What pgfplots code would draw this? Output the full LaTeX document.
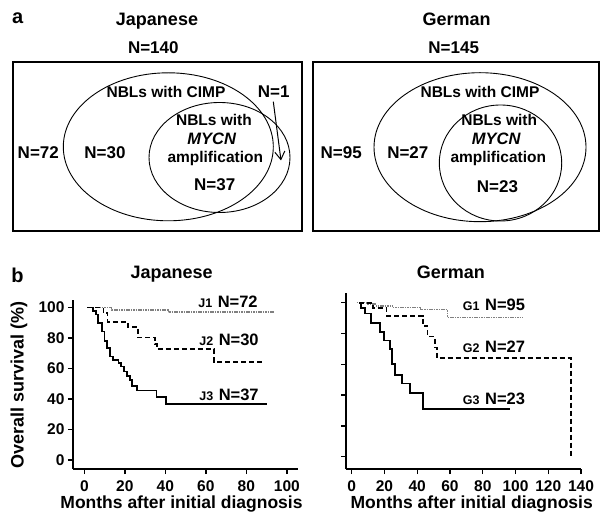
\documentclass[border=0pt]{standalone}
\usepackage{pgfplots}
\pgfplotsset{compat=1.18}
\usepackage{fontspec}
\setmainfont{Liberation Sans}
\usetikzlibrary{arrows.meta}
\newcommand\fs[1]{\fontsize{#1}{#1}\selectfont}
\pgfplotsset{
  venn/.style={scale only axis, anchor=south west, xtick=\empty, ytick=\empty,
    axis line style={line width=1.8pt}, clip=false},
  km/.style={scale only axis, anchor=south west, axis x line*=bottom, axis y line*=left,
    axis line style={line width=2pt}, tick align=outside, major tick length=5pt,
    tick style={line width=1.4pt, black}, xtick={0,20,...,140}, ytick={0,20,...,100},
    ticklabel style={font=\bfseries\fs{15.5}},
    xticklabel style={yshift=-3pt},
    /pgf/number format/assume math mode=true, clip=false},
  g1/.style={color=black!50, line width=1.5pt, dash pattern=on 1.6pt off 0.8pt, const plot},
  g2/.style={black, line width=1.7pt, dash pattern=on 5pt off 3pt, const plot},
  g3/.style={black, line width=1.7pt, const plot}
}
\begin{document}
\begin{tikzpicture}[font=\bfseries]
\useasboundingbox (0,0) rectangle (609pt,522pt);
% ---------- panel a labels
\node[anchor=base, font=\bfseries\fs{20}] at (17.7pt,498.7pt) {a};
\node[anchor=base, font=\bfseries\fs{18}] at (157pt,496pt) {Japanese};
\node[anchor=base, font=\bfseries\fs{18}] at (456.7pt,496pt) {German};
\node[anchor=base, font=\bfseries\fs{17}] at (153.3pt,468pt) {N=140};
\node[anchor=base, font=\bfseries\fs{17}] at (453.7pt,468pt) {N=145};
% ---------- Venn Japanese
\begin{axis}[venn, at={(13pt,291pt)}, width=289pt, height=169pt,
  xmin=13, xmax=302, ymin=291, ymax=460]
\draw[line width=0.9pt] (axis cs:168.3,375.2) ellipse [x radius=105, y radius=74];
\draw[line width=0.9pt] (axis cs:219.5,364.5) ellipse [x radius=70.5, y radius=55];
\draw[line width=1pt, -{Straight Barb[length=8pt,width=10pt]}] (axis cs:273.3,420.3) -- (axis cs:281,361.5);
\node[anchor=base, font=\bfseries\fs{15.5}] at (axis cs:166,424.7) {NBLs with CIMP};
\node[anchor=base, font=\bfseries\fs{17}] at (axis cs:273.8,424.7) {N=1};
\node[anchor=base, font=\bfseries\fs{15.5}] at (axis cs:214,396) {NBLs with};
\node[anchor=base, font=\bfseries\itshape\fs{16.5}] at (axis cs:211.7,377) {MYCN};
\node[anchor=base, font=\bfseries\fs{15.5}] at (axis cs:215.3,359.3) {amplification};
\node[anchor=base, font=\bfseries\fs{17}] at (axis cs:214.7,331.3) {N=37};
\node[anchor=base, font=\bfseries\fs{17}] at (axis cs:38.3,363.7) {N=72};
\node[anchor=base, font=\bfseries\fs{17}] at (axis cs:105,363.7) {N=30};
\end{axis}
% ---------- Venn German
\begin{axis}[venn, at={(313pt,291pt)}, width=286pt, height=169pt,
  xmin=313, xmax=599, ymin=291, ymax=460]
\draw[line width=0.9pt] (axis cs:480,374.8) ellipse [x radius=106, y radius=74.5];
\draw[line width=0.9pt] (axis cs:500.5,359) ellipse [x radius=61.2, y radius=58];
\node[anchor=base, font=\bfseries\fs{15.5}] at (axis cs:480,424.7) {NBLs with CIMP};
\node[anchor=base, font=\bfseries\fs{15.5}] at (axis cs:499.2,396) {NBLs with};
\node[anchor=base, font=\bfseries\itshape\fs{16.5}] at (axis cs:496.2,377) {MYCN};
\node[anchor=base, font=\bfseries\fs{15.5}] at (axis cs:498.3,359.3) {amplification};
\node[anchor=base, font=\bfseries\fs{17}] at (axis cs:497.5,329.3) {N=23};
\node[anchor=base, font=\bfseries\fs{17}] at (axis cs:341.2,363.7) {N=95};
\node[anchor=base, font=\bfseries\fs{17}] at (axis cs:407.8,363.7) {N=27};
\end{axis}
% ---------- panel b labels
\node[anchor=base, font=\bfseries\fs{20}] at (17.5pt,239.3pt) {b};
\node[anchor=base, font=\bfseries\fs{18}] at (171.7pt,243.7pt) {Japanese};
\node[anchor=base, font=\bfseries\fs{18}] at (450.8pt,243.7pt) {German};
\node[rotate=90, font=\bfseries\fs{18}] at (19pt,137pt) {Overall survival (\%)};
\node[anchor=base, font=\bfseries\fs{17.5}] at (181.5pt,13.7pt) {Months after initial diagnosis};
\node[anchor=base, font=\bfseries\fs{17.5}] at (471.7pt,13.7pt) {Months after initial diagnosis};
% ---------- KM Japanese
\begin{axis}[km, at={(73pt,53pt)}, width=225pt, height=169pt,
  xmin=-5.6, xmax=105.5, ymin=-5.9, ymax=105]
\addplot[g1] coordinates {(1.5,100)(13.5,98.6)(41.5,97)(94,97)};
\addplot[g2] coordinates {(1.5,100)(9.4,96.5)(11.5,90.5)(21.5,87.5)(26.5,80.3)(34.8,76)(35.8,72.7)(64,64.5)(89.2,64.5)};
\addplot[g3] coordinates {(3.6,100)(4.4,97.6)(5.8,95.4)(6.9,89.9)(8.6,84.4)(9.9,77.9)(11.1,73.5)(12.7,68)(14.3,65.8)(16.8,63.5)(18.1,61.4)(19.6,58.1)(20.9,55.3)(22.6,52.6)(23.4,48.7)(25.9,45.6)(35.7,41.5)(40.2,36.6)(90.1,36.6)};
\end{axis}
\node[anchor=base, font=\bfseries\fs{16.5}] at (228pt,214.7pt) {{\fs{12.5}J1}\,\,N=72};
\node[anchor=base, font=\bfseries\fs{16.5}] at (229pt,177pt) {{\fs{12.5}J2}\,\,N=30};
\node[anchor=base, font=\bfseries\fs{16.5}] at (229pt,121.3pt) {{\fs{12.5}J3}\,\,N=37};
% ---------- KM German
\begin{axis}[km, at={(346pt,53pt)}, width=235pt, height=176pt,
  xmin=-3.5, xmax=140, ymin=-8, ymax=106.3, yticklabels={}]
\addplot[g1] coordinates {(3,100)(9,99)(15,98)(25,97)(42,95.5)(58.5,90.5)(104.5,90.5)};
\addplot[g2] coordinates {(4.5,100)(13,96.5)(21.2,91.5)(43.5,85)(46.3,78)(50.8,71)(52,64)(134,64)(134,0)};
\addplot[g3] coordinates {(4.5,100)(5.5,96.5)(8.3,93)(11.6,87)(17.3,81)(19.5,75.5)(23.4,70)(24.6,60)(26.4,53)(30.5,47.6)(35.6,41.2)(43.3,31)(96.6,31)};
\end{axis}
\node[anchor=base, font=\bfseries\fs{16.5}] at (494pt,211.3pt) {{\fs{12.5}G1}\,\,N=95};
\node[anchor=base, font=\bfseries\fs{16.5}] at (494pt,169.3pt) {{\fs{12.5}G2}\,\,N=27};
\node[anchor=base, font=\bfseries\fs{16.5}] at (494pt,118pt) {{\fs{12.5}G3}\,\,N=23};
\end{tikzpicture}
\end{document}
